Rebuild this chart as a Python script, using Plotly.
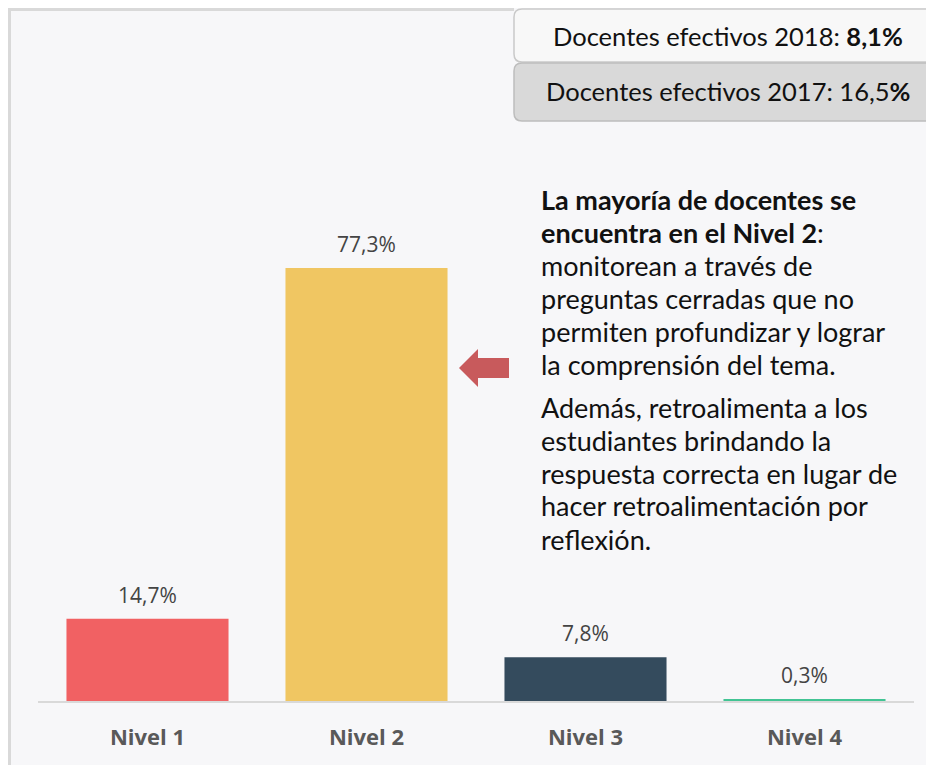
import plotly.graph_objects as go

# data
niveles = ["Nivel 1", "Nivel 2", "Nivel 3", "Nivel 4"]
porcentajes = [14.7, 77.3, 7.8, 0.3]
etiquetas = ["14,7%", "77,3%", "7,8%", "0,3%"]
colores = ["#f16163", "#f0c662", "#344b5d", "#42c494"]

caja_2018 = "Docentes efectivos 2018: <b>8,1%</b>"
caja_2017 = "Docentes efectivos 2017: 16,5<b>%</b>"

parrafo_1 = [
    "<b>La mayoría de docentes se</b>",
    "<b>encuentra en el Nivel 2</b>:",
    "monitorean a través de",
    "preguntas cerradas que no",
    "permiten profundizar y lograr",
    "la comprensión del tema.",
]
parrafo_2 = [
    "Además, retroalimenta a los",
    "estudiantes brindando la",
    "respuesta correcta en lugar de",
    "hacer retroalimentación por",
    "reflexión.",
]

# page has an 8px body margin; positions below are given in screen pixels
OFF = 8
W, H = 934, 765
L, R, T, B = 30, 28, 122, 72
PW, PH = W - L - R, H - T - B


def px(x):
    return (x - OFF - L) / PW


def py(y):
    return (H - B - (y - OFF)) / PH


def rounded_box(x0, y0, x1, y1, r=8):
    rx, ry = r / PW, r / PH
    a, b, c, d = px(x0), py(y0), px(x1), py(y1)
    return (f"M {a + rx},{b} L {c - rx},{b} Q {c},{b} {c},{b - ry} "
            f"L {c},{d + ry} Q {c},{d} {c - rx},{d} L {a + rx},{d} "
            f"Q {a},{d} {a},{d + ry} L {a},{b - ry} Q {a},{b} {a + rx},{b} Z")


fig = go.Figure(go.Bar(
    x=niveles, y=porcentajes, marker_color=colores, marker_line_width=0,
    hoverinfo="skip",
))

# value labels above bars
for n, v, t in zip(niveles, porcentajes, etiquetas):
    fig.add_annotation(x=n, y=v, text=t, showarrow=False, yanchor="middle",
                       yshift=24, font=dict(family="Open Sans", size=21, color="#444444"))

shapes = [
    # frame
    dict(type="line", xref="paper", yref="paper", x0=px(9), x1=px(514),
         y0=py(9.5), y1=py(9.5), line=dict(color="#d9d9d9", width=3)),
    dict(type="line", xref="paper", yref="paper", x0=px(9.5), x1=px(9.5),
         y0=py(8), y1=py(H + 20), line=dict(color="#d9d9d9", width=3)),
    # boxes
    dict(type="path", xref="paper", yref="paper", path=rounded_box(514, 9, 950, 62),
         fillcolor="#f8f8f8", line=dict(color="#c9c9c9", width=1.5)),
    dict(type="path", xref="paper", yref="paper", path=rounded_box(514, 63, 950, 121),
         fillcolor="#d9d9d9", line=dict(color="#bdbdbd", width=1.5)),
    # arrow
    dict(type="path", xref="paper", yref="paper",
         path=(f"M {px(459)},{py(368)} L {px(478)},{py(349)} L {px(478)},{py(358)} "
               f"L {px(509)},{py(358)} L {px(509)},{py(378)} L {px(478)},{py(378)} "
               f"L {px(478)},{py(387)} Z"),
         fillcolor="#c85a5c", line=dict(width=0)),
]
fig.update_layout(shapes=shapes)

fig.add_annotation(xref="paper", yref="paper", x=px(728), y=py(36), text=caja_2018,
                   showarrow=False, xanchor="center", yanchor="middle",
                   font=dict(family="Lato", size=25.5, color="#111111"))
fig.add_annotation(xref="paper", yref="paper", x=px(728), y=py(91), text=caja_2017,
                   showarrow=False, xanchor="center", yanchor="middle",
                   font=dict(family="Lato", size=25.5, color="#111111"))

# side text
lineas = [(t, 207 + i * 33) for i, t in enumerate(parrafo_1)]
lineas += [(t, 415 + i * 33) for i, t in enumerate(parrafo_2)]
for t, base in lineas:
    fig.add_annotation(xref="paper", yref="paper", x=px(539), y=py(base - 8), text=t,
                       showarrow=False, xanchor="left", yanchor="middle", align="left",
                       font=dict(family="Lato", size=27, color="#111111"))

fig.update_layout(
    width=W, height=H,
    margin=dict(l=L, r=R, t=T, b=B),
    paper_bgcolor="#f7f7f9", plot_bgcolor="#f7f7f9",
    bargap=0.26, showlegend=False,
    xaxis=dict(showline=True, linecolor="#d9d9d9", linewidth=2, ticks="",
               showgrid=False, ticklabelstandoff=16,
               tickfont=dict(family="Open Sans", size=22, color="#595959", weight="bold")),
    yaxis=dict(visible=False, range=[0, PH / (433 / 77.3)], showgrid=False),
)

fig.write_html("out.html")
